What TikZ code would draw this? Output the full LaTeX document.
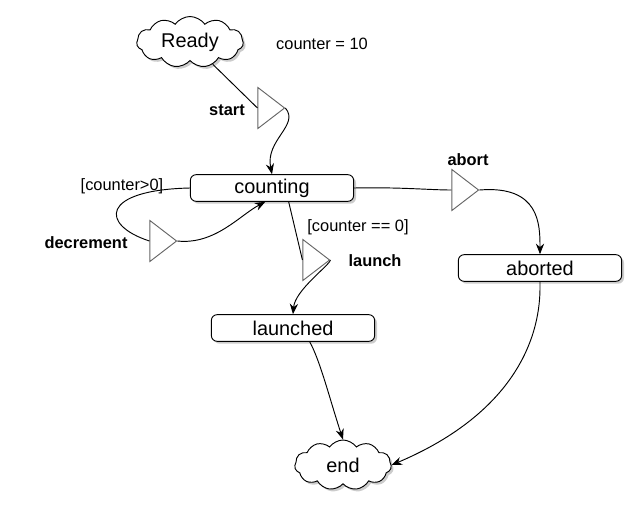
\documentclass[tikz,border=0pt]{standalone}
\usepackage{fontspec}
\setmainfont{Liberation Sans}
\usetikzlibrary{shapes.geometric,shapes.symbols,shadows,arrows.meta}
\begin{document}
\begin{tikzpicture}[x=0.03cm,y=-0.03cm,
  st/.style={draw,thick,rounded corners=5pt,fill=white,minimum width=4.9cm,minimum height=0.8cm,font=\fontsize{17}{20}\selectfont,inner sep=1pt,drop shadow={shadow xshift=2pt,shadow yshift=-2pt,opacity=0.4}},
  cl/.style={draw,thick,cloud,cloud puffs=11,cloud puff arc=110,aspect=2,fill=white,font=\fontsize{17}{20}\selectfont,minimum width=3.2cm,minimum height=1.5cm,inner sep=0pt,drop shadow={shadow xshift=2pt,shadow yshift=-2pt,opacity=0.4}},
  tri/.style={draw=gray!80!black,thick,isosceles triangle,isosceles triangle apex angle=75,fill=white,minimum height=0.8cm,inner sep=0pt},
  lab/.style={font=\fontsize{14}{16}\selectfont},
  blab/.style={font=\fontsize{14}{16}\selectfont\bfseries},
  ar/.style={thick,-{Stealth[length=9pt,width=7pt]}},
  ln/.style={thick}]
\useasboundingbox (0,0) rectangle (640,520);
\node[cl] (ready) at (190,42) {Ready};
\node[lab] (cnt) at (322,44) {counter = 10};
\node[tri] (t1) at (268,108) {};
\node[blab] (start) at (227,110) {start};
\node[st] (counting) at (272,188) {counting};
\node[lab] (cg) at (122,186) {[counter>0]};
\node[blab] (dec) at (86,243) {decrement};
\node[tri] (t2) at (160,241) {};
\node[blab] (abl) at (468,160) {abort};
\node[tri] (t3) at (462,190) {};
\node[st] (aborted) at (540,268) {aborted};
\node[lab] (ce) at (358,227) {[counter == 0]};
\node[tri] (t4) at (313,260) {};
\node[blab] (ll) at (375,261) {launch};
\node[st] (launched) at (293,328) {launched};
\node[cl,minimum width=2.9cm] (end) at (343,465) {end};

\draw[ln] (ready) -- (t1.west);
\draw[ar] (t1.apex) .. controls (300,125) and (265,140) .. (counting.north);
\draw[ln] (counting.west) .. controls (100,190) and (100,225) .. (t2.west);
\draw[ar] (t2.apex) .. controls (215,245) and (240,215) .. ([xshift=-0.2cm]counting.south);
\draw[ln] (counting.east) .. controls (400,187) and (430,190) .. (t3.west);
\draw[ar] (t3.apex) .. controls (540,185) and (540,225) .. (aborted.north);
\draw[ln] ([xshift=0.5cm]counting.south) -- (t4.west);
\draw[ar] (t4.apex) .. controls (330,265) and (295,290) .. (launched.north);
\draw[ar] ([xshift=0.5cm]launched.south) .. controls (320,360) and (330,400) .. (end.north);
\draw[ar] (aborted.south) .. controls (540,300) and (545,400) .. (end.east);
\end{tikzpicture}
\end{document}
